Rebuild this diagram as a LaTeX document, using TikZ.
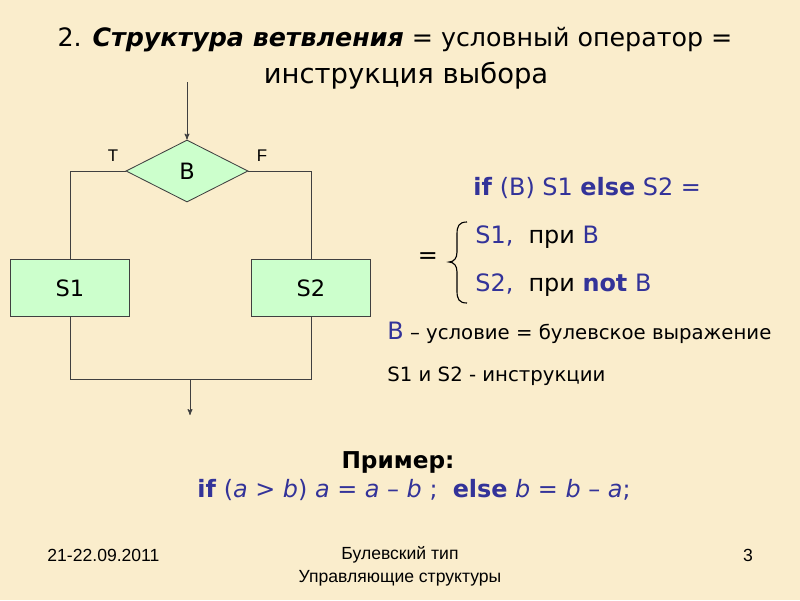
\documentclass[tikz,border=0pt]{standalone}
\usepackage{fontspec}
\setmainfont{DejaVu Sans}
\newfontfamily\footfont{Liberation Sans}
\usetikzlibrary{arrows,shapes.geometric,positioning}
\definecolor{parchment}{RGB}{250,237,204}
\definecolor{boxgreen}{RGB}{204,255,204}
\definecolor{codeblue}{RGB}{51,51,153}

\begin{document}
\begin{tikzpicture}[x=0.025cm, y=-0.025cm, >=stealth', semithick]

    \tikzstyle{block}=[draw=black!75, fill=boxgreen, minimum width=2.98cm, minimum height=1.43cm, font=\fontsize{16}{18}\selectfont]
    \tikzstyle{test}=[diamond, draw=black!75, fill=boxgreen, inner sep=0pt, minimum width=3.05cm, minimum height=1.55cm, font=\fontsize{16}{18}\selectfont]
    \tikzstyle{flow}=[draw=black!75]
    \tikzstyle{txt}=[font=\fontsize{17}{20}\selectfont, inner sep=0pt]
    \tikzstyle{note}=[font=\fontsize{14}{17}\selectfont, inner sep=0pt]
    \tikzstyle{foot}=[font=\footfont\fontsize{12.5}{15}\selectfont, inner sep=0pt]

    \fill[parchment] (0,0) rectangle (800,600);
    \useasboundingbox (0,0) rectangle (800,600);

    % title
    \node[font=\fontsize{18}{22}\selectfont] (title1) at (395,40) {2. \textbf{\textit{Структура ветвления}} = условный оператор =};
    \node[font=\fontsize{19.5}{23}\selectfont] (title2) at (406,76) {инструкция выбора};

    % flowchart
    \coordinate (in) at (187,82);
    \node[test] (cond) at (187,171) {B};
    \node[block] (s1) at (70,288) {S1};
    \node[block] (s2) at (311,288) {S2};
    \coordinate (join) at (190,379);
    \coordinate (out) at (190,415);

    \node[font=\footfont\fontsize{12}{14}\selectfont] (t) at (113,156) {T};
    \node[font=\footfont\fontsize{12}{14}\selectfont] (f) at (262,156) {F};

    \draw[flow,->] (in) -- (cond.north);
    \draw[flow] (cond.west) -| (s1.north);
    \draw[flow] (cond.east) -| (s2.north);
    \draw[flow] (s1.south) |- (join) -| (s2.south);
    \draw[flow,->] (join) -- (out);

    % meaning
    \node[txt, anchor=west, text=codeblue] (ifline) at (473,188) {\textbf{if} (B) S1 \textbf{else} S2 =};
    \node[txt] (eq) at (428,258) {=};
    \draw[thick] (467,222) .. controls (459,222) and (457,226) .. (457,234) -- (457,252)
        .. controls (457,258) and (454,262) .. (449,262)
        .. controls (454,262) and (457,266) .. (457,272) -- (457,291)
        .. controls (457,299) and (459,303) .. (467,303);
    \node[txt, anchor=west] (case1) at (475,237) {\textcolor{codeblue}{S1,}\ \ при \textcolor{codeblue}{B}};
    \node[txt, anchor=west] (case2) at (475,285) {\textcolor{codeblue}{S2,}\ \ при \textcolor{codeblue}{\textbf{not} B}};
    \node[note, anchor=west] (condnote) at (387,333) {\textcolor{codeblue}{\fontsize{17}{20}\selectfont B} – условие = булевское выражение};
    \node[note, anchor=west] (instr) at (387,376) {S1 и S2 - инструкции};

    % example
    \node[txt, font=\bfseries\fontsize{16.5}{20}\selectfont] (extitle) at (398,462) {Пример:};
    \node[txt, text=codeblue] (excode) at (414,490) {\textbf{if} (\textit{a} > \textit{b}) \textit{a} = \textit{a} – \textit{b} ;\ \ \textbf{else} \textit{b} = \textit{b} – \textit{a};};

    % footer
    \node[foot, anchor=west] (date) at (47,555) {21-22.09.2011};
    \node[foot] (topic) at (400,555) {Булевский тип};
    \node[foot] (topic2) at (400,578) {Управляющие структуры};
    \node[foot] (page) at (748,555) {3};
\end{tikzpicture}
\end{document}
